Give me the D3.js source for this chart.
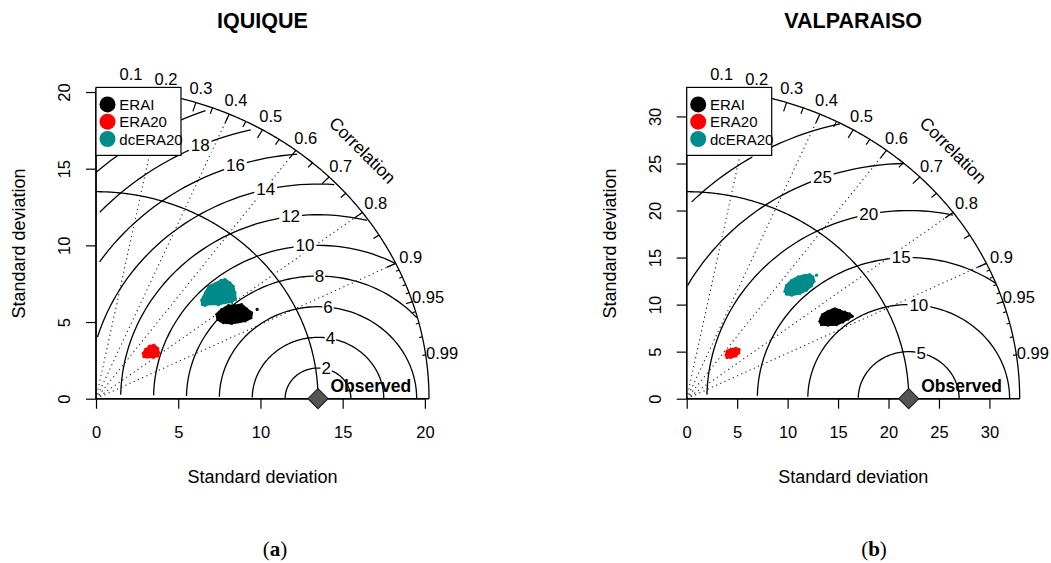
<!DOCTYPE html>
<html><head><meta charset="utf-8">
<script src="https://cdn.jsdelivr.net/npm/d3@7"></script>
<style>
body{margin:0;background:#fff}
svg{display:block}
text{font-family:"Liberation Sans",Arial,Helvetica,sans-serif;fill:#000}
</style>
</head><body>
<svg id="chart" width="1051" height="563"></svg>
<script>
// ---------------- DATA ----------------
const panelTitles = ["IQUIQUE", "VALPARAISO"];
const panelLetters = ["a", "b"];
const observedSD = [13.5, 22.0];
const axisTicksIquique = [0, 5, 10, 15, 20];
const axisTicksValparaiso = [0, 5, 10, 15, 20, 25, 30];
const rmsIquique = [2, 4, 6, 8, 10, 12, 14, 16, 18, 20];
const rmsValparaiso = [5, 10, 15, 20, 25, 30];
const corrTickLabels = [0.1, 0.2, 0.3, 0.4, 0.5, 0.6, 0.7, 0.8, 0.9, 0.95, 0.99];
const corrGridLines = [0.2, 0.4, 0.6, 0.8, 0.9];
const seriesNames = ["ERAI", "ERA20", "dcERA20"];
const seriesColors = ["#000000", "#ff0000", "#008b8b"];

// ensemble clouds: outline of each cloud as [sd*cos, sd*sin] (std-dev units)
const iqERAI = [[7.34,5.50],[7.64,5.82],[8.05,6.08],[8.46,6.08],[8.86,6.15],[9.16,5.86],[9.47,5.60],[9.43,5.28],[9.07,5.06],[8.25,4.91],[7.74,4.95],[7.40,5.17]];
const iqERA20 = [[2.91,2.74],[2.87,2.96],[3.01,3.22],[3.25,3.43],[3.52,3.50],[3.76,3.28],[3.82,3.00],[3.78,2.78],[3.52,2.70],[3.11,2.70]];
const iqDcERA20 = [[6.46,6.15],[6.42,6.43],[6.66,6.95],[6.87,7.34],[7.24,7.52],[7.60,7.73],[7.85,7.78],[8.15,7.56],[8.35,7.34],[8.46,6.91],[8.49,6.51],[8.25,6.30],[7.85,6.25],[7.44,6.12],[7.03,6.17],[6.63,6.08]];
const iqOutliers = [[9.80,5.82,0]];
const vaERAI = [[13.19,8.23],[13.45,8.94],[14.01,9.30],[14.67,9.57],[15.16,9.40],[15.66,9.22],[16.15,9.04],[16.42,8.77],[15.98,8.45],[15.49,8.16],[14.84,7.87],[14.01,7.81],[13.35,7.87]];
const vaERA20 = [[3.89,4.65],[3.99,5.07],[4.38,5.29],[4.88,5.36],[5.20,5.23],[5.17,4.86],[4.88,4.54],[4.38,4.38],[3.99,4.38]];
const vaDcERA20 = [[9.72,11.43],[9.89,12.06],[10.39,12.60],[11.04,12.95],[11.70,13.13],[12.19,13.19],[12.52,12.95],[12.62,12.49],[12.36,11.99],[11.87,11.53],[11.21,11.17],[10.39,11.00],[9.89,11.11]];
const vaOutliers = [[12.86,13.13,2]];

// ---------------- LAYOUT ----------------
const panels = [
  {title: panelTitles[0], letter: panelLetters[0], sdr: observedSD[0], ticks: axisTicksIquique, rms: rmsIquique,
   clouds: [iqERAI, iqERA20, iqDcERA20], outliers: iqOutliers, ox: 96, oy: 398.7, capX: 275},
  {title: panelTitles[1], letter: panelLetters[1], sdr: observedSD[1], ticks: axisTicksValparaiso, rms: rmsValparaiso,
   clouds: [vaERAI, vaERA20, vaDcERA20], outliers: vaOutliers, ox: 686.7, oy: 398.7, capX: 874}
];
const W = 333, H = 310.5;
const FS = 16.5;
const LW = 85, LH = 68;
const svg = d3.select("#chart");
const defs = svg.append("defs");

panels.forEach((p, pi) => {
  const maxsd = 1.5 * p.sdr;
  const x = d3.scaleLinear().domain([0, maxsd]).range([p.ox, p.ox + W]);
  const y = d3.scaleLinear().domain([0, maxsd]).range([p.oy, p.oy - H]);
  const line = d3.line().x(d => x(d[0])).y(d => y(d[1]));
  const g = svg.append("g");
  const lx = p.ox, ly = p.oy - H - 0.8;

  // clip: region below the legend box (labels partly hidden by the legend)
  defs.append("clipPath").attr("id", "below" + pi).append("rect")
    .attr("x", lx - 50).attr("y", ly + LH).attr("width", W + 100).attr("height", 200);

  // correlation grid lines (dotted)
  corrGridLines.forEach(c => {
    g.append("path").attr("d", line([[0,0],[maxsd*c, maxsd*Math.sqrt(1-c*c)]]))
      .attr("fill","none").attr("stroke","#222").attr("stroke-width",1.1)
      .attr("stroke-dasharray","1.2,3.4");
  });

  // axis segments to maxsd
  g.append("path").attr("d", line([[0,0],[maxsd,0]])).attr("stroke","#000").attr("stroke-width",1.4).attr("fill","none");
  g.append("path").attr("d", line([[0,0],[0,maxsd]])).attr("stroke","#000").attr("stroke-width",1.4).attr("fill","none");

  // x axis
  const last = p.ticks[p.ticks.length-1];
  const xa = g.append("g").attr("transform", `translate(0,${p.oy})`)
    .call(d3.axisBottom(x).tickValues(p.ticks).tickSize(10).tickSizeOuter(0).tickFormat(d3.format("d")));
  xa.select(".domain").remove();
  xa.append("path").attr("d", `M${x(0)},0H${x(last)}`).attr("stroke","#000").attr("stroke-width",1.4);
  xa.selectAll(".tick line").attr("stroke","#000").attr("stroke-width",1.2);
  xa.selectAll(".tick text").attr("font-size",FS).attr("font-family","Liberation Sans, Arial, sans-serif").attr("fill","#000")
    .attr("y",39.6).attr("dy",0);

  // y axis
  const ya = g.append("g").attr("transform", `translate(${p.ox},0)`)
    .call(d3.axisLeft(y).tickValues(p.ticks).tickSize(10).tickSizeOuter(0).tickFormat(d3.format("d")));
  ya.select(".domain").remove();
  ya.append("path").attr("d", `M0,${y(0)}V${y(last)}`).attr("stroke","#000").attr("stroke-width",1.4);
  ya.selectAll(".tick line").attr("stroke","#000").attr("stroke-width",1.2);
  ya.selectAll(".tick text").attr("font-size",FS).attr("font-family","Liberation Sans, Arial, sans-serif").attr("fill","#000")
    .attr("transform","rotate(-90)").attr("x",0).attr("y",-26).attr("dy",0).attr("text-anchor","middle");

  // centered RMS difference curves (plotrix algorithm)
  const ts = d3.range(0, Math.PI, 0.03);
  const ng = p.rms.length;
  const labelpos = d3.range(ng).map(i => Math.floor(45 + i*(70-45)/(ng-1)));
  p.rms.forEach((gm, gi) => {
    const pts = ts.map(t => [Math.cos(t)*gm + p.sdr, Math.sin(t)*gm]);
    let endI = pts.findIndex(d => d[0] < 0);
    endI = endI >= 0 ? endI - 1 : pts.length - 1;
    let startI = 0;
    pts.forEach((d, i) => { if (d[0]*d[0] + d[1]*d[1] > maxsd*maxsd) startI = i + 1; });
    g.append("path").attr("d", line(pts.slice(startI, endI + 1)))
      .attr("fill","none").attr("stroke","#000").attr("stroke-width",1.3);
    const lp = pts[labelpos[gi] - 1];
    if (lp[0] > 0) {
      const cx = x(lp[0]), cy = y(lp[1]);
      const inLegendX = cx > lx && cx < lx + LW;
      const hiddenFully = inLegendX && cy + 8 < ly + LH;
      if (hiddenFully) return;            // label completely covered by the legend
      const partly = inLegendX && cy - 8 < ly + LH;
      const lg = g.append("g");
      if (partly) lg.attr("clip-path", `url(#below${pi})`);
      const t = lg.append("text").attr("x", cx).attr("y", cy).attr("font-size",17)
        .attr("text-anchor","middle").attr("dominant-baseline","central").text(gm);
      const bb = t.node().getBBox();
      lg.insert("rect", () => t.node())
        .attr("x", bb.x - bb.width*0.1).attr("y", cy - 8).attr("width", bb.width*1.2).attr("height", 16).attr("fill","#fff");
    }
  });

  // outer arc and reference arc
  const arcT = d3.range(0, Math.PI/2 + 0.001, 0.005);
  g.append("path").attr("d", line(arcT.map(t => [Math.cos(t)*maxsd, Math.sin(t)*maxsd])))
    .attr("fill","none").attr("stroke","#000").attr("stroke-width",1.3);
  g.append("path").attr("d", line(arcT.map(t => [Math.cos(t)*p.sdr, Math.sin(t)*p.sdr])))
    .attr("fill","none").attr("stroke","#000").attr("stroke-width",1.3);

  // correlation ticks
  const tickSet = (vals, frac) => vals.forEach(c => {
    const s = Math.sqrt(1 - c*c);
    g.append("path").attr("d", line([[c*maxsd, s*maxsd],[c*frac*maxsd, s*frac*maxsd]]))
      .attr("stroke","#000").attr("stroke-width",1.2);
  });
  tickSet(d3.range(1, 10).map(i => i/10), 0.97);
  tickSet(d3.range(0, 10).map(i => 0.05 + i/10), 0.98);
  tickSet(d3.range(91, 100).map(i => i/100), 0.99);

  // observed point
  const dx = x(p.sdr), dy = y(0);
  g.append("path").attr("d", `M${dx},${dy-10}L${dx+10},${dy}L${dx},${dy+10}L${dx-10},${dy}Z`)
    .attr("fill","#555").attr("stroke","#222").attr("stroke-width",1.2);
  g.append("text").attr("x", dx + 12.5).attr("y", dy - 6.5).attr("font-size",17.5).attr("font-weight","bold").text("Observed");

  // correlation labels
  corrTickLabels.forEach(c => {
    const s = Math.sqrt(1 - c*c);
    g.append("text").attr("x", x(c*1.05*maxsd)).attr("y", y(s*1.05*maxsd)).attr("font-size",FS)
      .attr("text-anchor","middle").attr("dominant-baseline","central").text(c);
  });
  g.append("text").attr("transform", `translate(${x(0.8*maxsd)},${y(0.8*maxsd)}) rotate(45)`)
    .attr("font-size",17.5).attr("text-anchor","middle").attr("dominant-baseline","central").text("Correlation");

  // ensemble clouds
  const blob = d3.line().x(d => x(d[0])).y(d => y(d[1])).curve(d3.curveCatmullRomClosed);
  p.clouds.forEach((cl, si) => {
    g.append("path").attr("d", blob(cl)).attr("fill", seriesColors[si]).attr("stroke", seriesColors[si])
      .attr("stroke-width",1.6).attr("stroke-linejoin","round");
    g.selectAll(null).data(cl).join("circle").attr("cx", d => x(d[0])).attr("cy", d => y(d[1]))
      .attr("r",1.5).attr("fill", seriesColors[si]);
  });
  g.selectAll(null).data(p.outliers).join("circle").attr("cx", d => x(d[0])).attr("cy", d => y(d[1]))
    .attr("r",1.6).attr("fill", d => seriesColors[d[2]]);

  // legend
  g.append("rect").attr("x", lx).attr("y", ly).attr("width", LW).attr("height", LH)
    .attr("fill","#fff").attr("stroke","#000").attr("stroke-width",1.2);
  seriesNames.forEach((nm, i) => {
    const yy = ly + 17 + i*17.3;
    g.append("circle").attr("cx", lx + 11.5).attr("cy", yy).attr("r", 8).attr("fill", seriesColors[i]);
    g.append("text").attr("x", lx + 23.3).attr("y", yy).attr("dominant-baseline","central").attr("font-size",15).text(nm);
  });

  // titles and axis labels
  g.append("text").attr("x", p.ox + W/2).attr("y", 28.3).attr("text-anchor","middle")
    .attr("font-size",21.5).attr("font-weight","bold").text(p.title);
  g.append("text").attr("x", p.ox + W/2).attr("y", 483).attr("text-anchor","middle")
    .attr("font-size",18).text("Standard deviation");
  g.append("text").attr("transform", `translate(${p.ox - 71},${p.oy - H/2}) rotate(-90)`)
    .attr("text-anchor","middle").attr("font-size",18).text("Standard deviation");

  // caption
  const cap = g.append("text").attr("x", p.capX).attr("y", 556).attr("text-anchor","middle")
    .attr("font-size",21).style("font-family","'Liberation Serif','DejaVu Serif',serif");
  cap.append("tspan").text("(");
  cap.append("tspan").attr("font-weight","bold").text(p.letter);
  cap.append("tspan").text(")");
});
</script>
</body></html>
